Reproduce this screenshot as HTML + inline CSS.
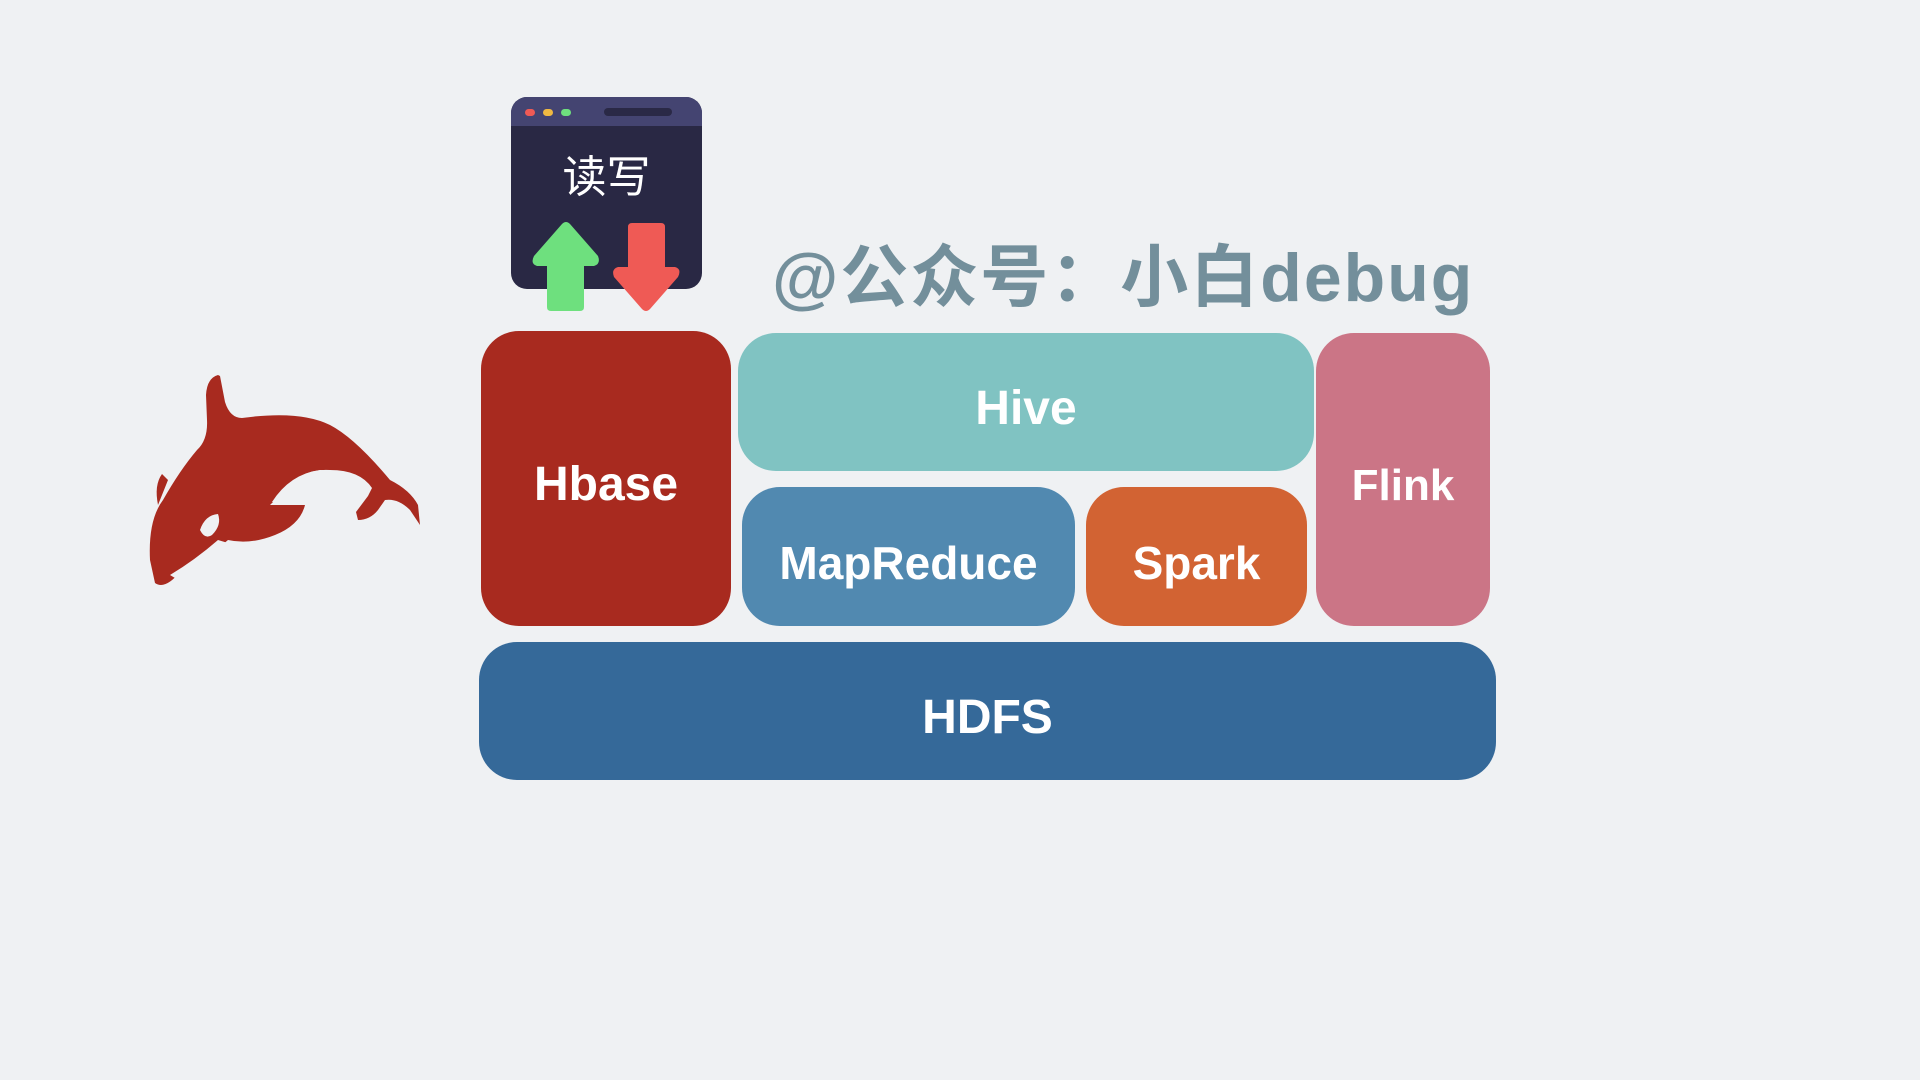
<!DOCTYPE html>
<html><head><meta charset="utf-8"><style>
html,body{margin:0;padding:0;}
body{width:1920px;height:1080px;background:#eff1f3;position:relative;overflow:hidden;font-family:"Liberation Sans","Noto Sans CJK SC",sans-serif;}
.b{position:absolute;border-radius:38px;color:#fff;font-weight:bold;display:flex;align-items:center;justify-content:center;font-size:48px;box-sizing:border-box;padding-top:12px;}
</style></head><body>
<div class="b" style="left:481px;top:331px;width:250px;height:295px;background:#a82a1f;">Hbase</div>
<div class="b" style="left:738px;top:333px;width:576px;height:138px;background:#80c3c2;">Hive</div>
<div class="b" style="left:1316px;top:333px;width:174px;height:293px;background:#cb7586;font-size:44px;">Flink</div>
<div class="b" style="left:742px;top:487px;width:333px;height:139px;background:#5189b0;font-size:46px;">MapReduce</div>
<div class="b" style="left:1086px;top:487px;width:221px;height:139px;background:#d26333;font-size:46px;">Spark</div>
<div class="b" style="left:479px;top:642px;width:1017px;height:138px;background:#356999;">HDFS</div>

<div style="position:absolute;left:511px;top:97px;width:191px;height:192px;background:#292844;border-radius:16px;overflow:hidden;">
 <div style="height:29px;background:#444471;position:relative;">
  <div style="position:absolute;left:14px;top:12px;width:10px;height:7px;border-radius:4px;background:#ef5a55"></div>
  <div style="position:absolute;left:32px;top:12px;width:10px;height:7px;border-radius:4px;background:#f0b942"></div>
  <div style="position:absolute;left:50px;top:12px;width:10px;height:7px;border-radius:4px;background:#6ee07e"></div>
  <div style="position:absolute;left:93px;top:11px;width:68px;height:8px;border-radius:4px;background:#2a2946"></div>
 </div>
 <div style="position:absolute;left:0;top:44px;width:191px;text-align:center;color:#fff;font-size:44px;">读写</div>
</div>
<svg style="position:absolute;left:0;top:0" width="1920" height="1080">
 <path d="M547 307 Q547 311 551 311 L580 311 Q584 311 584 307 L584 266 L594 266 Q601 264 598 256 L570 224 Q566 220 562 224 L534 256 Q530 264 537 266 L547 266 Z" fill="#6ee07e"/>
 <path d="M628 227 Q628 223 632 223 L661 223 Q665 223 665 227 L665 267 L675 267 Q682 269 678 277 L650 309 Q646 313 642 309 L614 277 Q611 269 618 267 L628 267 Z" fill="#ef5a55"/>
 <path d="M155 583 L150 560 Q148 520 163 500 Q180 470 197 450 Q208 440 207 420 L206 395 Q207 378 218 375 L220 376 L225 402 Q230 418 242 418 Q300 410 330 425 Q355 438 390 480 Q410 490 418 505 L420 525 L410 510 Q398 498 385 500 L378 510 Q370 520 358 520 L356 512 L368 496 L372 488 Q360 470 330 470 Q300 468 280 495 L270 505 L305 505 Q300 525 275 535 Q250 545 228 540 Q205 560 180 572 Q165 590 155 583 Z" fill="#a82a1f"/>
 <path d="M272 502 Q290 474 320 470 Q345 470 360 480 Q340 468 312 478 Q292 486 278 502 Z" fill="#eff1f3"/>
 <path d="M200 530 Q205 515 218 514 Q222 525 212 535 Q205 540 200 530 Z" fill="#eff1f3"/>
 <path d="M175 578 Q200 565 228 543 L218 540 Q195 560 170 575 Z" fill="#eff1f3"/>
 <path d="M160 500 L168 480 L162 474 Q154 485 158 505 Z" fill="#a82a1f"/>
</svg>
<div style="position:absolute;left:772px;top:222px;font-size:68px;font-weight:bold;color:#738f9b;white-space:nowrap;letter-spacing:2px;">@公众号：小白debug</div>
</body></html>
